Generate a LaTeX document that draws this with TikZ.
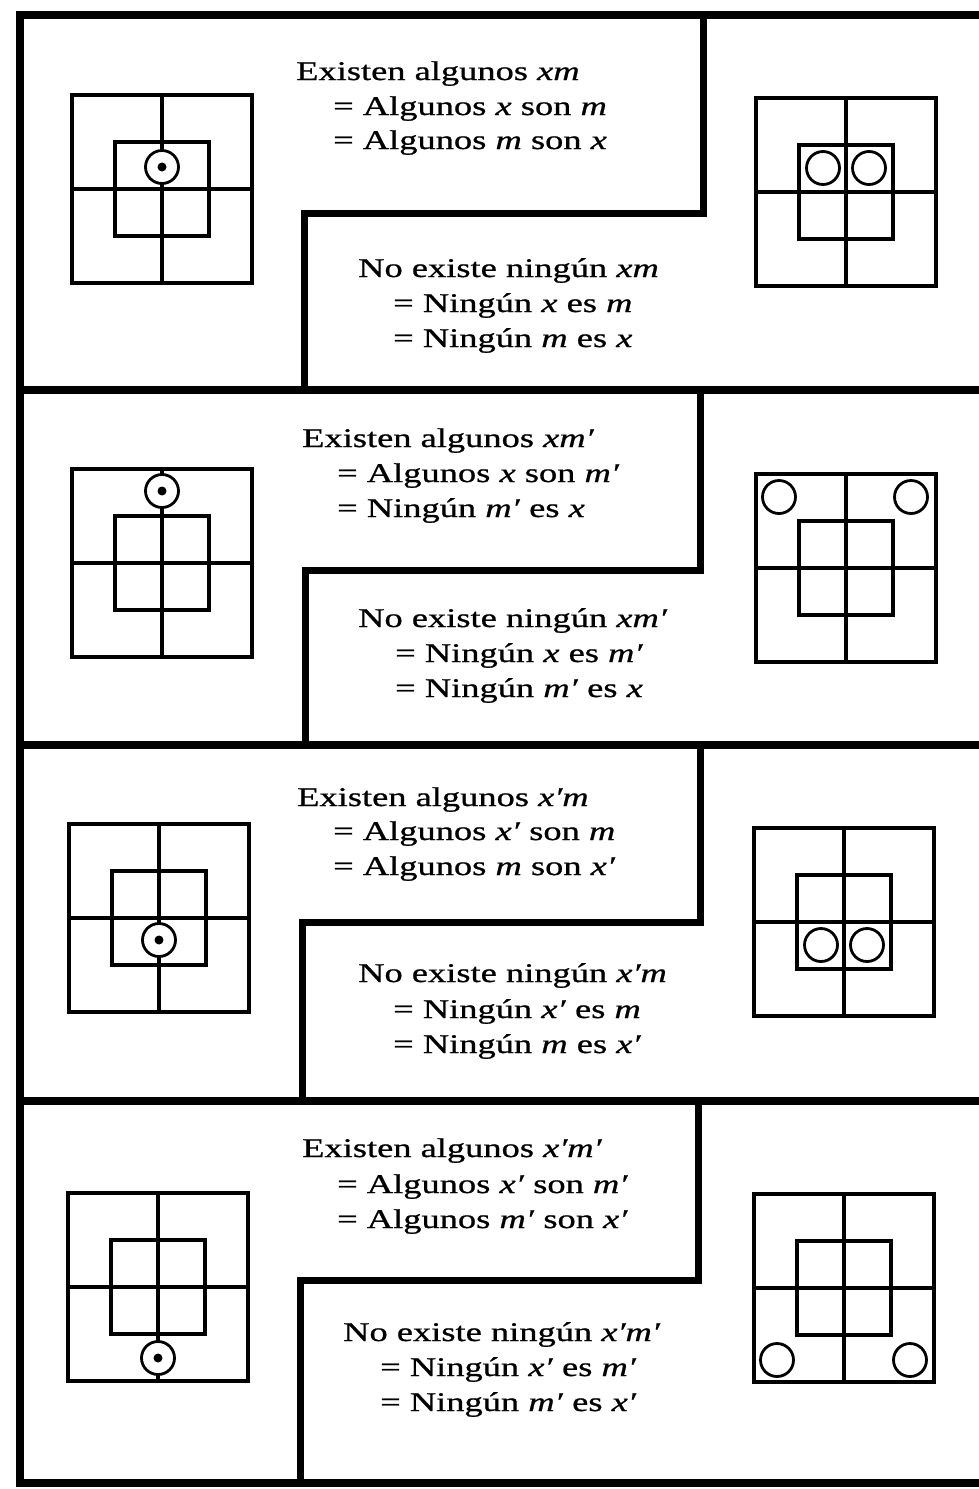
\documentclass[tikz,border=0pt]{standalone}
\usepackage{fontspec}
\setmainfont{Liberation Serif}[FakeStretch=1.35, FakeBold=0.8]
\tikzset{
  marco/.style={line width=8pt, line cap=rect},
  escalon/.style={line width=7pt, line join=miter},
  linea/.style={line width=3.2pt},
  texto/.style={anchor=base west, inner sep=0pt, font=\fontsize{27}{30}\selectfont},
  vacio/.style={circle, draw, line width=2.8pt, fill=white, minimum size=33pt, inner sep=0pt},
  existe/.style={vacio, path picture={\fill[black] (path picture bounding box.center) circle (4.5pt);}},
  diagrama/.pic={
    \draw[linea] (-90,-94) rectangle (90,94);
    \draw[linea] (-47,-47) rectangle (47,47);
    \draw[linea] (-90,0) -- (90,0);
    \draw[linea] (0,-94) -- (0,94);
  },
}

\begin{document}
\begin{tikzpicture}[x=1pt, y=-1pt]
  \useasboundingbox (0,0) rectangle (979,1489);

  % marco y separaciones
  \draw[marco] (979,15) -- (20,15) -- (20,1483) -- (979,1483);
  \draw[marco] (20,390) -- (979,390);
  \draw[marco] (20,745) -- (979,745);
  \draw[marco] (20,1101) -- (979,1101);
  \draw[escalon] (703,15) -- (703,213) -- (304,213) -- (304,390);
  \draw[escalon] (700,390) -- (700,570) -- (305,570) -- (305,745);
  \draw[escalon] (700,745) -- (700,922) -- (302,922) -- (302,1101);
  \draw[escalon] (698,1101) -- (698,1280) -- (300,1280) -- (300,1483);

  % diagramas
  \pic at (162,189) {diagrama};
  \pic at (846,192) {diagrama};
  \pic at (162,563) {diagrama};
  \pic at (846,568) {diagrama};
  \pic at (159,918) {diagrama};
  \pic at (844,922) {diagrama};
  \pic at (158,1287) {diagrama};
  \pic at (844,1288) {diagrama};

  \node[existe] (p1) at (162,167) {};
  \node[vacio] (v1a) at (823,168) {};
  \node[vacio] (v1b) at (869,168) {};
  \node[existe] (p2) at (162,491) {};
  \node[vacio] (v2a) at (779,497) {};
  \node[vacio] (v2b) at (911,497) {};
  \node[existe] (p3) at (159,940) {};
  \node[vacio] (v3a) at (821,945) {};
  \node[vacio] (v3b) at (867,945) {};
  \node[existe] (p4) at (158,1358) {};
  \node[vacio] (v4a) at (777,1360) {};
  \node[vacio] (v4b) at (910,1360) {};

  % textos
  \node[texto] (e1a) at (296,80) {Existen algunos \textit{xm}};
  \node[texto] (e1b) at (333,115) {= Algunos \textit{x} son \textit{m}};
  \node[texto] (e1c) at (333,149) {= Algunos \textit{m} son \textit{x}};
  \node[texto] (n1a) at (358,277) {No existe ningún \textit{xm}};
  \node[texto] (n1b) at (393,312) {= Ningún \textit{x} es \textit{m}};
  \node[texto] (n1c) at (393,347) {= Ningún \textit{m} es \textit{x}};

  \node[texto] (e2a) at (302,447) {Existen algunos \textit{xm′}};
  \node[texto] (e2b) at (337,482) {= Algunos \textit{x} son \textit{m′}};
  \node[texto] (e2c) at (337,517) {= Ningún \textit{m′} es \textit{x}};
  \node[texto] (n2a) at (358,627) {No existe ningún \textit{xm′}};
  \node[texto] (n2b) at (395,662) {= Ningún \textit{x} es \textit{m′}};
  \node[texto] (n2c) at (395,697) {= Ningún \textit{m′} es \textit{x}};

  \node[texto] (e3a) at (297,806) {Existen algunos \textit{x′m}};
  \node[texto] (e3b) at (333,840) {= Algunos \textit{x′} son \textit{m}};
  \node[texto] (e3c) at (333,875) {= Algunos \textit{m} son \textit{x′}};
  \node[texto] (n3a) at (358,982) {No existe ningún \textit{x′m}};
  \node[texto] (n3b) at (393,1018) {= Ningún \textit{x′} es \textit{m}};
  \node[texto] (n3c) at (393,1053) {= Ningún \textit{m} es \textit{x′}};

  \node[texto] (e4a) at (302,1157) {Existen algunos \textit{x′m′}};
  \node[texto] (e4b) at (337,1193) {= Algunos \textit{x′} son \textit{m′}};
  \node[texto] (e4c) at (337,1228) {= Algunos \textit{m′} son \textit{x′}};
  \node[texto] (n4a) at (343,1341) {No existe ningún \textit{x′m′}};
  \node[texto] (n4b) at (380,1376) {= Ningún \textit{x′} es \textit{m′}};
  \node[texto] (n4c) at (380,1411) {= Ningún \textit{m′} es \textit{x′}};
\end{tikzpicture}
\end{document}
